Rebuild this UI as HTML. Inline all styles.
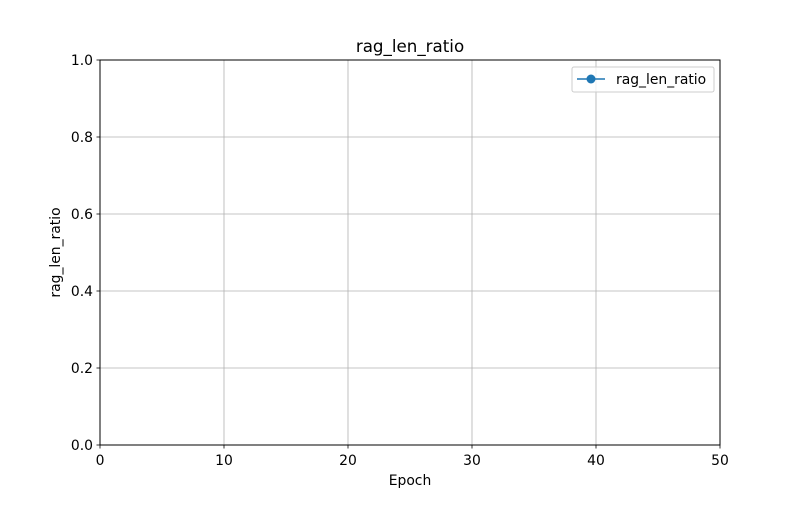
<!DOCTYPE html>
<html><head><meta charset="utf-8"><style>
html,body{margin:0;padding:0;background:#fff;}
svg text{font-family:"DejaVu Sans","Liberation Sans",sans-serif;fill:#000;}
</style></head><body>
<svg id="chart" width="800" height="500" viewBox="0 0 800 500" xmlns="http://www.w3.org/2000/svg">
<rect width="800" height="500" fill="#fff"/>
<g id="grid"></g>
<g id="series"></g>
<rect x="100" y="60" width="620" height="385" fill="none" stroke="#000" stroke-width="1"/>
<g id="xticks"></g>
<g id="yticks"></g>
<text x="410" y="52" font-size="16.7" text-anchor="middle">rag_len_ratio</text>
<text x="410" y="485" font-size="13.9" text-anchor="middle">Epoch</text>
<text x="60" y="252.5" font-size="13.9" text-anchor="middle" transform="rotate(-90 60 252.5)">rag_len_ratio</text>
<g>
<rect x="572" y="67" width="142" height="25" rx="2" fill="#fff" fill-opacity="0.8" stroke="#ccc"/>
<line x1="577" y1="79" x2="605" y2="79" stroke="#1f77b4" stroke-width="1.5"/>
<circle cx="591" cy="79" r="4.5" fill="#1f77b4"/>
<text x="616" y="84" font-size="13.9">rag_len_ratio</text>
</g>
</svg>
<script>
const xTickLabels = [0, 10, 20, 30, 40, 50];
const yTickLabels = ["0.0", "0.2", "0.4", "0.6", "0.8", "1.0"];
const epochs = [];
const values = [];

const NS = "http://www.w3.org/2000/svg";
const X0 = 100, X1 = 720, Y0 = 445, Y1 = 60;
function xs(v){ return X0 + (v - 0) / 50 * (X1 - X0); }
function ys(v){ return Y0 - (v - 0) / 1 * (Y0 - Y1); }
function mk(tag, attrs){ const e = document.createElementNS(NS, tag); for (const k in attrs) e.setAttribute(k, attrs[k]); return e; }

const grid = document.getElementById('grid');
const xt = document.getElementById('xticks');
const yt = document.getElementById('yticks');
xTickLabels.forEach(v => {
  const x = xs(v);
  const g = mk('line', {x1:x, y1:Y1, x2:x, y2:Y0, stroke:'#b0b0b0', 'stroke-width':0.8});
  
  
  grid.appendChild(g);
  const t = mk('line', {x1:x, y1:Y0, x2:x, y2:Y0+3.5, stroke:'#000', 'stroke-width':0.8});
  
  
  xt.appendChild(t);
  const l = mk('text', {x:x, y:Y0+20, 'font-size':13.9, 'text-anchor':'middle'});
  
  
  l.textContent = v;
  xt.appendChild(l);
});
yTickLabels.forEach(s => {
  const y = ys(parseFloat(s));
  const g = mk('line', {x1:X0, y1:y, x2:X1, y2:y, stroke:'#b0b0b0', 'stroke-width':0.8});
  
  
  grid.appendChild(g);
  const t = mk('line', {x1:X0-3.5, y1:y, x2:X0, y2:y, stroke:'#000', 'stroke-width':0.8});
  
  
  yt.appendChild(t);
  const l = mk('text', {x:X0-7, y:y+5, 'font-size':13.9, 'text-anchor':'end'});
  
  
  l.textContent = s;
  yt.appendChild(l);
});
const ser = document.getElementById('series');
if (epochs.length) {
  const pts = epochs.map((e, i) => xs(e) + ',' + ys(values[i])).join(' ');
  const pl = mk('polyline', {points:pts, fill:'none', stroke:'#1f77b4', 'stroke-width':1.5});
  
  
  ser.appendChild(pl);
  epochs.forEach((e, i) => {
    const c = mk('circle', {cx:xs(e), cy:ys(values[i]), r:4.5, fill:'#1f77b4'});
    
    
    ser.appendChild(c);
  });
}
</script>
</body></html>
